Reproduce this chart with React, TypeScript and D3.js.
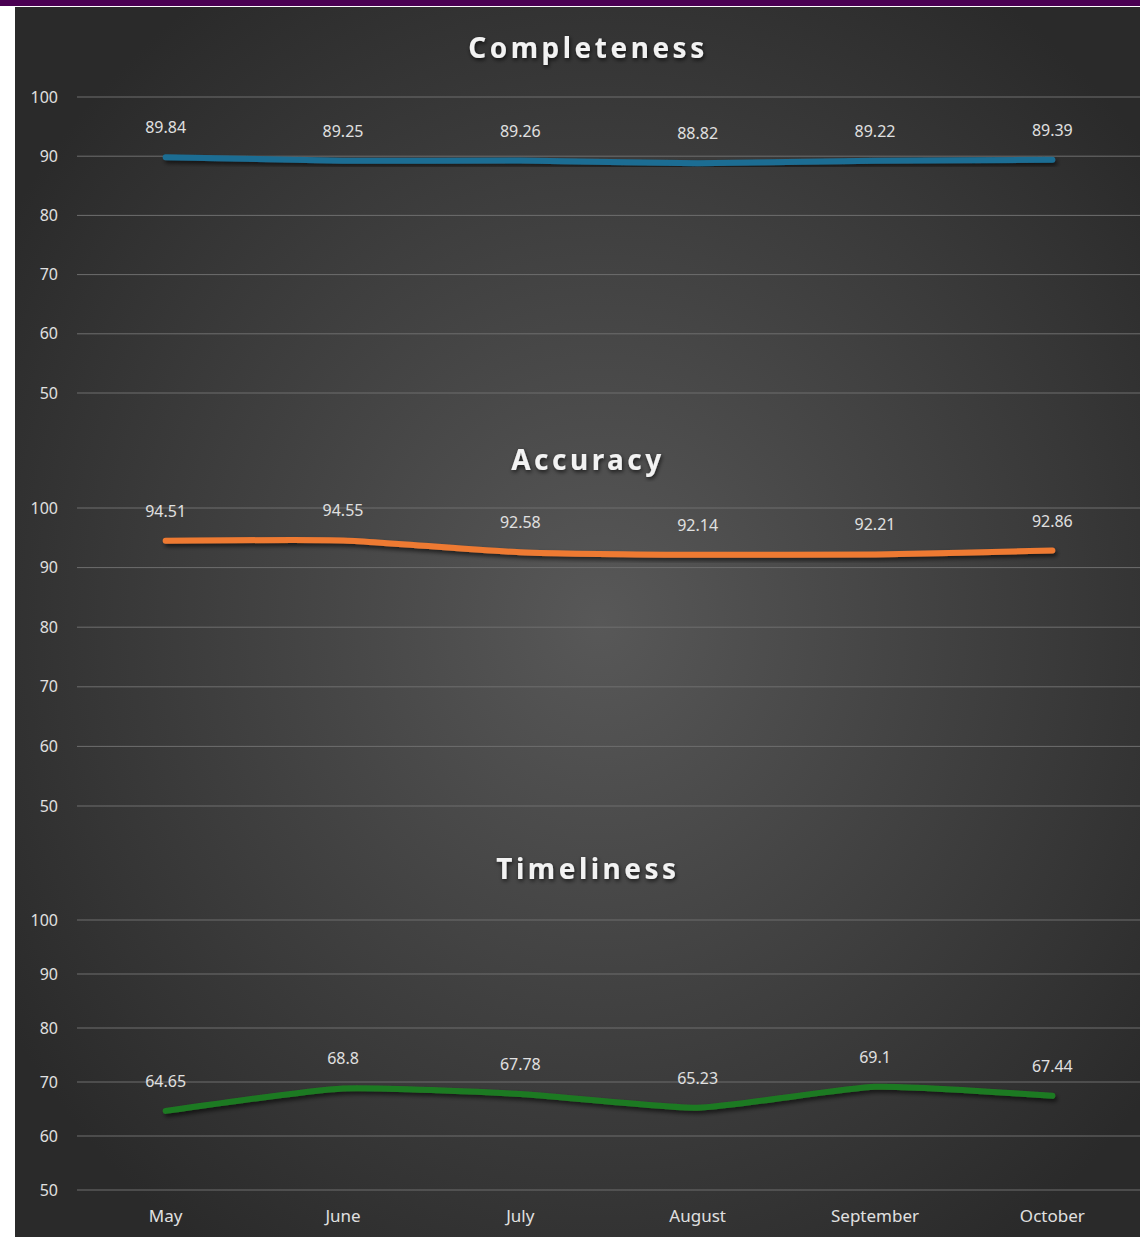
import { useEffect, useRef } from 'react';
import * as d3 from 'd3';

const months = ['May', 'June', 'July', 'August', 'September', 'October'];
const completeness = [89.84, 89.25, 89.26, 88.82, 89.22, 89.39];
const accuracy = [94.51, 94.55, 92.58, 92.14, 92.21, 92.86];
const timeliness = [64.65, 68.8, 67.78, 65.23, 69.1, 67.44];
const yTicks = [50, 60, 70, 80, 90, 100];

const W = 1140;
const H = 1237;

// panel layout: where the 100 and 50 gridlines sit, and the title line
const panels = [
  { title: 'Completeness', values: completeness, color: '#1c6d93', top: 97, bottom: 393, titleY: 48 },
  { title: 'Accuracy', values: accuracy, color: '#ee7a33', top: 508, bottom: 806, titleY: 460 },
  { title: 'Timeliness', values: timeliness, color: '#1f7a23', top: 920, bottom: 1190, titleY: 869 },
];

const App = () => {
  const svgRef = useRef(null);

  useEffect(() => {
    const svg = d3.select(svgRef.current);
    svg.selectAll('*').remove();

    const defs = svg.append('defs');
    const grad = defs.append('radialGradient')
      .attr('id', 'bg')
      .attr('cx', '52%').attr('cy', '50%').attr('r', '62%');
    grad.append('stop').attr('offset', '0%').attr('stop-color', '#585858');
    grad.append('stop').attr('offset', '100%').attr('stop-color', '#2a2a2a');

    const shadow = defs.append('filter').attr('id', 'shadow')
      .attr('x', '-10%').attr('y', '-50%').attr('width', '120%').attr('height', '200%');
    shadow.append('feDropShadow')
      .attr('dx', 2).attr('dy', 3).attr('stdDeviation', 2)
      .attr('flood-color', '#000').attr('flood-opacity', 0.6);

    const glow = defs.append('filter').attr('id', 'glow');
    glow.append('feDropShadow')
      .attr('dx', 1).attr('dy', 2).attr('stdDeviation', 2)
      .attr('flood-color', '#000').attr('flood-opacity', 0.7);

    // page frame
    svg.append('rect').attr('width', W).attr('height', H).attr('fill', '#fff');
    svg.append('rect').attr('x', 0).attr('y', 0).attr('width', W).attr('height', 6).attr('fill', '#4a0052');
    svg.append('rect').attr('x', 15).attr('y', 7).attr('width', W - 15).attr('height', H - 7).attr('fill', 'url(#bg)');

    const x = d3.scaleBand<string>().domain(months).range([77, 1141]);
    const cx = (m: string) => (x(m) ?? 0) + x.bandwidth() / 2;
    const font = "'Noto Sans', 'Open Sans', sans-serif";

    panels.forEach((p) => {
      const y = d3.scaleLinear().domain([50, 100]).range([p.bottom, p.top]);
      const g = svg.append('g');

      // title
      g.append('text')
        .attr('x', 588)
        .attr('y', p.titleY)
        .attr('dy', '0.35em')
        .attr('text-anchor', 'middle')
        .attr('fill', '#f2f2f2')
        .attr('font-family', font)
        .attr('font-weight', 'bold')
        .attr('font-size', '28px')
        .attr('letter-spacing', '3.5px')
        .attr('filter', 'url(#glow)')
        .text(p.title);

      // grid + y ticks
      g.selectAll('line.grid')
        .data(yTicks)
        .join('line')
        .attr('x1', 77).attr('x2', W)
        .attr('y1', (d) => y(d)).attr('y2', (d) => y(d))
        .attr('stroke', '#6e6e6e')
        .attr('stroke-width', 1);

      g.selectAll('text.tick')
        .data(yTicks)
        .join('text')
        .attr('x', 58)
        .attr('y', (d) => y(d))
        .attr('dy', '0.35em')
        .attr('text-anchor', 'end')
        .attr('fill', '#e0e0e0')
        .attr('font-family', font)
        .attr('font-size', '16px')
        .text((d) => d);

      // line
      const line = d3.line<number>()
        .x((_, i) => cx(months[i]))
        .y((d) => y(d))
        .curve(d3.curveCardinal.tension(0.5));

      g.append('path')
        .attr('d', line(p.values))
        .attr('fill', 'none')
        .attr('stroke', p.color)
        .attr('stroke-width', 6)
        .attr('stroke-linecap', 'round')
        .attr('filter', 'url(#shadow)');

      // data labels
      g.selectAll('text.lbl')
        .data(p.values)
        .join('text')
        .attr('x', (_, i) => cx(months[i]))
        .attr('y', (d) => y(d) - 24)
        .attr('text-anchor', 'middle')
        .attr('fill', '#e0e0e0')
        .attr('font-family', font)
        .attr('font-size', '16px')
        .text((d) => d);
    });

    // x axis labels
    svg.append('g').selectAll('text')
      .data(months)
      .join('text')
      .attr('x', (d) => cx(d))
      .attr('y', 1216)
      .attr('dy', '0.35em')
      .attr('text-anchor', 'middle')
      .attr('fill', '#e0e0e0')
      .attr('font-family', font)
      .attr('font-size', '17px')
      .text((d) => d);
  }, []);

  return (
    <div style={{ position: 'absolute', left: 0, top: 0 }}>
      <svg ref={svgRef} width={W} height={H} style={{ display: 'block' }} />
    </div>
  );
};

export default App;
